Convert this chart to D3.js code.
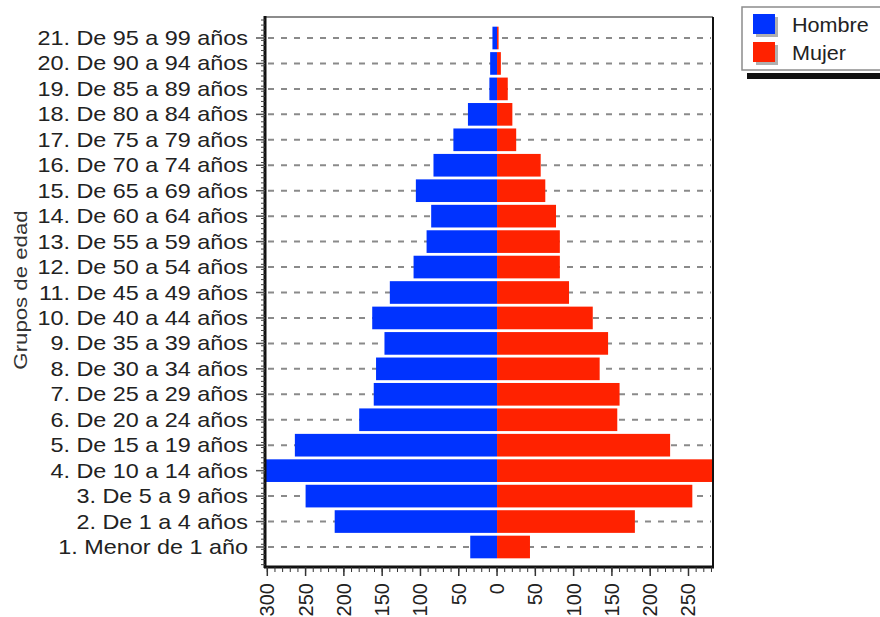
<!DOCTYPE html>
<html>
<head>
<meta charset="utf-8">
<script src="https://cdn.jsdelivr.net/npm/d3@7"></script>
<style>
  body { margin: 0; background: #fff; }
  svg { display: block; font-family: "Liberation Sans", Arial, sans-serif; }
</style>
</head>
<body>
<div id="chartContainer"></div>
<script>
// Grupos de edad, de abajo (1) hacia arriba (21)
const categorias = [
  "1. Menor de 1 año", "2. De 1 a 4 años", "3. De 5 a 9 años", "4. De 10 a 14 años",
  "5. De 15 a 19 años", "6. De 20 a 24 años", "7. De 25 a 29 años", "8. De 30 a 34 años",
  "9. De 35 a 39 años", "10. De 40 a 44 años", "11. De 45 a 49 años", "12. De 50 a 54 años",
  "13. De 55 a 59 años", "14. De 60 a 64 años", "15. De 65 a 69 años", "16. De 70 a 74 años",
  "17. De 75 a 79 años", "18. De 80 a 84 años", "19. De 85 a 89 años", "20. De 90 a 94 años",
  "21. De 95 a 99 años"
];
const hombre = [35, 212, 250, 303, 264, 180, 161, 158, 147, 163, 140, 109, 92, 86, 106, 83, 57, 38, 10, 9, 6];
const mujer  = [43, 180, 255, 282, 226, 157, 160, 134, 145, 125, 94, 82, 82, 77, 63, 57, 25, 20, 14, 5, 2];
const ticksX = [-300, -250, -200, -150, -100, -50, 0, 50, 100, 150, 200, 250];
const series = ["Hombre", "Mujer"];
const colores = ["#0033ff", "#ff2200"];

const width = 880, height = 617;
const plot = { left: 265, right: 713, top: 17, bottom: 567 };

const svg = d3.select("#chartContainer")
  .append("svg")
  .attr("width", width)
  .attr("height", height);

// scales
const x = d3.scaleLinear()
  .domain([-d3.max(hombre), d3.max(mujer)])
  .range([plot.left, plot.right]);

const y = d3.scalePoint()
  .domain(categorias.slice().reverse())
  .range([38, 547]);

const barH = y.step() * 0.89;

// dashed grid lines
svg.append("g")
  .selectAll("line")
  .data(categorias)
  .enter()
  .append("line")
  .attr("x1", plot.left + 3)
  .attr("x2", plot.right - 2)
  .attr("y1", d => y(d))
  .attr("y2", d => y(d))
  .attr("stroke", "#8a8a8a")
  .attr("stroke-width", 2)
  .attr("stroke-dasharray", "6,7");

// bars
const rows = categorias.map((c, i) => ({ c, h: hombre[i], m: mujer[i] }));

svg.append("g")
  .selectAll("rect")
  .data(rows)
  .enter()
  .append("rect")
  .attr("x", d => x(-d.h))
  .attr("y", d => y(d.c) - barH / 2)
  .attr("width", d => x(0) - x(-d.h))
  .attr("height", barH)
  .attr("fill", colores[0]);

svg.append("g")
  .selectAll("rect")
  .data(rows)
  .enter()
  .append("rect")
  .attr("x", x(0))
  .attr("y", d => y(d.c) - barH / 2)
  .attr("width", d => x(d.m) - x(0))
  .attr("height", barH)
  .attr("fill", colores[1]);

// frame
svg.append("line")
  .attr("x1", plot.left).attr("x2", plot.right)
  .attr("y1", plot.top).attr("y2", plot.top)
  .attr("stroke", "#8c8c8c").attr("stroke-width", 2);
svg.append("line")
  .attr("x1", plot.right).attr("x2", plot.right)
  .attr("y1", plot.top).attr("y2", plot.bottom)
  .attr("stroke", "#111").attr("stroke-width", 2);
svg.append("line")
  .attr("x1", plot.left - 1).attr("x2", plot.right + 1)
  .attr("y1", plot.bottom).attr("y2", plot.bottom)
  .attr("stroke", "#111").attr("stroke-width", 3);
svg.append("line")
  .attr("x1", plot.left).attr("x2", plot.left)
  .attr("y1", plot.top - 1).attr("y2", plot.bottom + 1)
  .attr("stroke", "#111").attr("stroke-width", 3);

// y axis: minor ticks, major ticks and labels
const minorY = d3.range(plot.top + 3, plot.bottom, y.step() / 5);
svg.append("g")
  .selectAll("line")
  .data(minorY)
  .enter()
  .append("line")
  .attr("x1", plot.left - 4).attr("x2", plot.left)
  .attr("y1", d => d).attr("y2", d => d)
  .attr("stroke", "#444").attr("stroke-width", 1);

svg.append("g")
  .selectAll("line")
  .data(categorias)
  .enter()
  .append("line")
  .attr("x1", plot.left - 9).attr("x2", plot.left)
  .attr("y1", d => y(d)).attr("y2", d => y(d))
  .attr("stroke", "#555").attr("stroke-width", 1.5);

svg.append("g")
  .selectAll("text")
  .data(categorias)
  .enter()
  .append("text")
  .attr("transform", d => `translate(248, ${y(d)}) scale(1.17, 1)`)
  .attr("dy", "0.35em")
  .attr("text-anchor", "end")
  .attr("font-size", "20px")
  .attr("fill", "#222")
  .text(d => d);

// x axis: minor ticks, major ticks and rotated labels
const minorX = d3.range(-300, 290, 10);
svg.append("g")
  .selectAll("line")
  .data(minorX)
  .enter()
  .append("line")
  .attr("x1", d => x(d)).attr("x2", d => x(d))
  .attr("y1", plot.bottom).attr("y2", plot.bottom + 5)
  .attr("stroke", "#333").attr("stroke-width", 1);

svg.append("g")
  .selectAll("line")
  .data(ticksX)
  .enter()
  .append("line")
  .attr("x1", d => x(d)).attr("x2", d => x(d))
  .attr("y1", plot.bottom).attr("y2", plot.bottom + 9)
  .attr("stroke", "#333").attr("stroke-width", 1.5);

svg.append("g")
  .selectAll("text")
  .data(ticksX)
  .enter()
  .append("text")
  .attr("transform", d => `translate(${x(d)}, 583) rotate(-90)`)
  .attr("dy", "0.35em")
  .attr("text-anchor", "end")
  .attr("font-size", "20px")
  .attr("fill", "#222")
  .text(d => Math.abs(d));

// y axis title
svg.append("text")
  .attr("transform", "translate(27, 290) rotate(-90) scale(1.17, 1)")
  .attr("text-anchor", "middle")
  .attr("font-size", "19px")
  .attr("fill", "#333")
  .text("Grupos de edad");

// legend
const legend = svg.append("g");
legend.append("rect")
  .attr("x", 747).attr("y", 14).attr("width", 150).attr("height", 65)
  .attr("fill", "#111");
legend.append("rect")
  .attr("x", 741).attr("y", 6).attr("width", 150).attr("height", 67)
  .attr("fill", "#fff");
legend.append("rect")
  .attr("x", 742).attr("y", 7).attr("width", 150).attr("height", 63)
  .attr("fill", "none").attr("stroke", "#8c8c8c").attr("stroke-width", 1.5);

const item = legend.selectAll(".item")
  .data(series)
  .enter()
  .append("g")
  .attr("class", "item")
  .attr("transform", (d, i) => `translate(0, ${i * 28})`);

item.append("rect")
  .attr("x", 756).attr("y", 17).attr("width", 22).attr("height", 20)
  .attr("fill", "#b0b0b0");
item.append("rect")
  .attr("x", 753).attr("y", 14).attr("width", 22).attr("height", 20)
  .attr("fill", (d, i) => colores[i]);
item.append("text")
  .attr("transform", "translate(792, 32) scale(1.08, 1)")
  .attr("font-size", "20px")
  .attr("fill", "#222")
  .text(d => d);
</script>
</body>
</html>
